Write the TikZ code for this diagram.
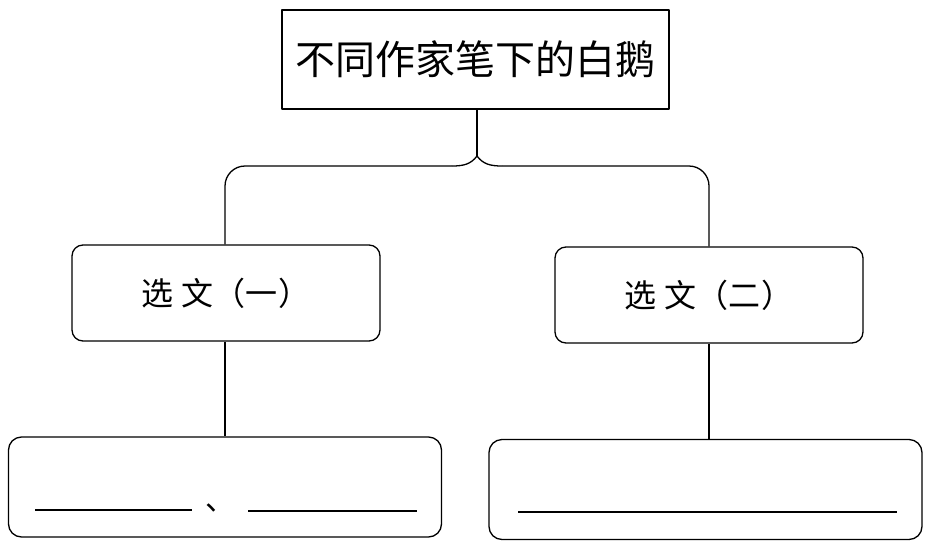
\documentclass[tikz,border=0pt]{standalone}
\usepackage{fontspec}
\newfontfamily\cjk{Noto Sans CJK SC}
\begin{document}
\begin{tikzpicture}[x=1pt,y=-1pt,line width=1.3pt,line join=round,
  topbox/.style={draw,minimum width=387pt,minimum height=99pt,inner sep=0pt,font=\cjk\fontsize{40}{44}\selectfont},
  midbox/.style={draw,rounded corners=11pt,minimum width=308pt,minimum height=96pt,inner sep=0pt,font=\cjk\fontsize{32}{36}\selectfont},
  botbox/.style={draw,rounded corners=13pt,minimum width=433pt,minimum height=100pt,inner sep=0pt},
  blank/.style={line width=1.2pt}]
\useasboundingbox (0,0) rectangle (940,544);
\node[topbox] (top) at (475.5,59.5) {不同作家笔下的白鹅};
\node[midbox] (m1) at (226,293) {\raisebox{-5pt}{选\hspace{8pt}文（一\kern2pt）}};
\node[midbox] (m2) at (709,295) {\raisebox{-5pt}{选\hspace{8pt}文（二\kern2pt）}};
\node[botbox] (b1) at (225,487) {};
\node[botbox] (b2) at (705.5,489.5) {};
\coordinate (tip) at (477,156);
\coordinate (cl) at (452,166);
\coordinate (cr) at (502,166);
\coordinate (lv) at (225,166);
\coordinate (rv) at (709,166);
\draw (top.south -| tip) -- (tip);
\draw (tip) .. controls (471,164) and (464,166) .. (cl);
\draw (tip) .. controls (483,164) and (490,166) .. (cr);
\draw[rounded corners=20pt] (cl) -- (lv) -- (m1.north -| lv);
\draw[rounded corners=20pt] (cr) -- (rv) -- (m2.north);
\draw (m1.south -| lv) -- (b1.north -| lv);
\draw (m2.south) -- (m2.south |- b2.north);
\coordinate (l1a) at (35,510);
\coordinate (l1b) at (192,510);
\coordinate (l2a) at (248,511);
\coordinate (l2b) at (417,511);
\coordinate (l3a) at (518,512);
\coordinate (l3b) at (897,512);
\draw[blank] (l1a) -- (l1b);
\draw[blank] (l2a) -- (l2b);
\draw[blank] (l3a) -- (l3b);
\node[anchor=base west,inner sep=0pt,font=\cjk\fontsize{30}{34}\selectfont] (dun) at (205,510) {、};
\end{tikzpicture}
\end{document}
